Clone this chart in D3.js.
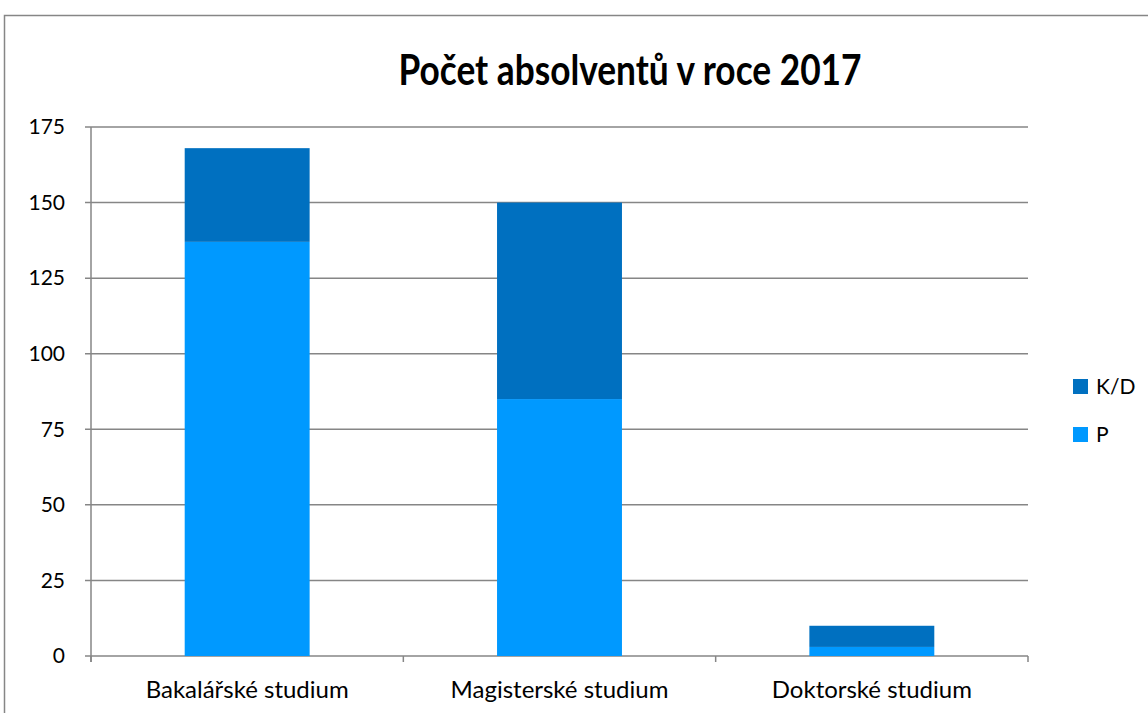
<!DOCTYPE html>
<html>
<head>
<meta charset="utf-8">
<script src="https://cdn.jsdelivr.net/npm/d3@7"></script>
<style>
  body { margin: 0; background: #fff; }
  text { font-family: Lato, "Open Sans", sans-serif; fill: #000; }
</style>
</head>
<body>
<div id="chart"></div>
<script>
var categories = ["Bakalářské studium", "Magisterské studium", "Doktorské studium"];
var seriesNames = ["P", "K/D"];
var valuesP = [137, 85, 3];
var valuesKD = [31, 65, 7];
var yTicks = [0, 25, 50, 75, 100, 125, 150, 175];
var colors = {"P": "#0099ff", "K/D": "#0070c0"};

var width = 1148, height = 713;
var plot = {left: 91, right: 1028, top: 127, bottom: 656};

var svg = d3.select("#chart").append("svg")
    .attr("width", width)
    .attr("height", height);

// chart area border
svg.append("rect")
    .attr("x", 4.5).attr("y", 15.5)
    .attr("width", 1160).attr("height", 720)
    .attr("fill", "#fff")
    .attr("stroke", "#868686")
    .attr("stroke-width", 1.5);

var x = d3.scaleBand()
    .domain(categories)
    .range([plot.left, plot.right])
    .paddingInner(0.6)
    .paddingOuter(0.3);

var y = d3.scaleLinear()
    .domain([0, 175])
    .range([plot.bottom, plot.top]);

// gridlines
svg.append("g")
  .selectAll("line")
  .data(yTicks)
  .enter().append("line")
    .attr("x1", plot.left - 6)
    .attr("x2", plot.right)
    .attr("y1", function(d) { return y(d); })
    .attr("y2", function(d) { return y(d); })
    .attr("stroke", "#868686")
    .attr("stroke-width", 1.5);

// y axis line
svg.append("line")
    .attr("x1", plot.left).attr("x2", plot.left)
    .attr("y1", plot.top).attr("y2", plot.bottom + 6)
    .attr("stroke", "#868686")
    .attr("stroke-width", 1.5);

// y tick labels
svg.append("g")
  .selectAll("text")
  .data(yTicks)
  .enter().append("text")
    .attr("x", plot.left - 26)
    .attr("y", function(d) { return y(d); })
    .attr("dy", "0.35em")
    .attr("text-anchor", "end")
    .style("font-size", "21px")
    .text(function(d) { return d; });

// x category ticks
var step = (plot.right - plot.left) / categories.length;
svg.append("g")
  .selectAll("line")
  .data(d3.range(categories.length + 1))
  .enter().append("line")
    .attr("x1", function(i) { return plot.left + i * step; })
    .attr("x2", function(i) { return plot.left + i * step; })
    .attr("y1", plot.bottom)
    .attr("y2", plot.bottom + 6)
    .attr("stroke", "#868686")
    .attr("stroke-width", 1.5);

// stacked bars
var rows = categories.map(function(c, i) {
  return {cat: c, "P": valuesP[i], "K/D": valuesKD[i]};
});
var stack = d3.stack().keys(seriesNames)(rows);

svg.append("g")
  .selectAll("g")
  .data(stack)
  .enter().append("g")
    .attr("fill", function(s) { return colors[s.key]; })
  .selectAll("rect")
  .data(function(s) { return s; })
  .enter().append("rect")
    .attr("x", function(d) { return x(d.data.cat); })
    .attr("width", x.bandwidth())
    .attr("y", function(d) { return y(d[1]); })
    .attr("height", function(d) { return y(d[0]) - y(d[1]); });

// category labels
svg.append("g")
  .selectAll("text")
  .data(categories)
  .enter().append("text")
    .attr("x", function(d) { return x(d) + x.bandwidth() / 2; })
    .attr("y", 698)
    .attr("text-anchor", "middle")
    .style("font-size", "24px")
    .text(function(d) { return d; });

// title (squeezed a bit, the original font is narrower)
svg.append("text")
    .attr("x", 630)
    .attr("y", 85)
    .attr("text-anchor", "middle")
    .attr("textLength", 463)
    .attr("lengthAdjust", "spacingAndGlyphs")
    .style("font-size", "42px")
    .style("font-weight", "bold")
    .text("Počet absolventů v roce 2017");

// legend
var legendItems = ["K/D", "P"];
var legend = svg.append("g")
  .selectAll("g")
  .data(legendItems)
  .enter().append("g")
    .attr("transform", function(d, i) { return "translate(1073," + (379 + i * 48) + ")"; });
legend.append("rect")
    .attr("width", 15).attr("height", 15)
    .attr("fill", function(d) { return colors[d]; });
legend.append("text")
    .attr("x", 23).attr("y", 8)
    .attr("dy", "0.35em")
    .style("font-size", "21px")
    .text(function(d) { return d; });
</script>
</body>
</html>
